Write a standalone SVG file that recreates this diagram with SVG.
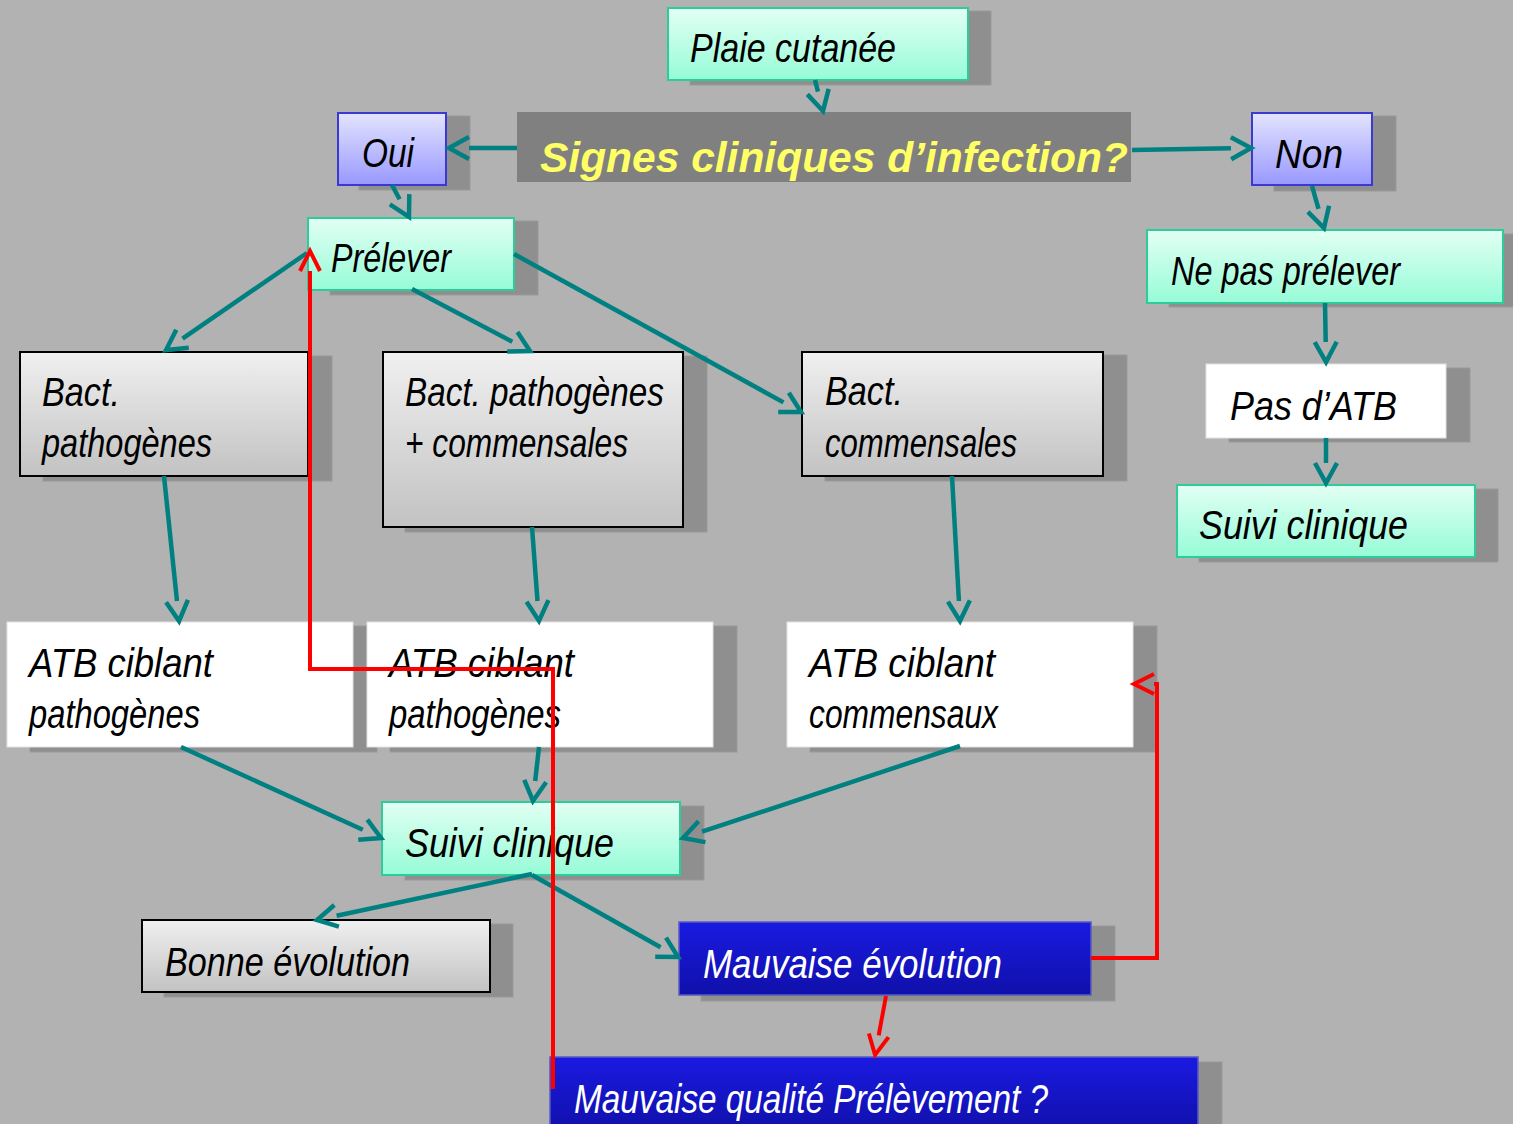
<svg xmlns="http://www.w3.org/2000/svg" width="1513" height="1124" viewBox="0 0 1513 1124">
<style>
.t{font-family:"Liberation Sans",Arial,sans-serif;font-style:italic;font-size:41px;fill:#000}
.w{fill:#fff}
.sh{fill:#8f8f8f;stroke:#999;stroke-width:1}
.green{fill:url(#gGreen);stroke:#2ecc9a;stroke-width:2}
.purple{fill:url(#gPurple);stroke:#3a3ad0;stroke-width:2}
.gray{fill:url(#gGray);stroke:#000;stroke-width:2}
.white{fill:#fff;stroke:#e2e2e2;stroke-width:1}
.blue{fill:url(#gBlue);stroke:#5a5ac8;stroke-width:1.5}
.c{fill:none;stroke:#008080;stroke-width:4.5;marker-end:url(#mT)}
.r{fill:none;stroke:#ff0000;stroke-width:4;marker-end:url(#mR)}
</style>
<defs>
<linearGradient id="gGreen" x1="0" y1="0" x2="0" y2="1"><stop offset="0" stop-color="#e2fff4"/><stop offset="1" stop-color="#96fcd8"/></linearGradient>
<linearGradient id="gPurple" x1="0" y1="0" x2="0" y2="1"><stop offset="0" stop-color="#e4e4ff"/><stop offset="1" stop-color="#9898ff"/></linearGradient>
<linearGradient id="gGray" x1="0" y1="0" x2="0" y2="1"><stop offset="0" stop-color="#f0f0f0"/><stop offset="1" stop-color="#c2c2c2"/></linearGradient>
<linearGradient id="gBlue" x1="0" y1="0" x2="0" y2="1"><stop offset="0" stop-color="#1a1ae2"/><stop offset="1" stop-color="#1010aa"/></linearGradient>
<marker id="mT" markerUnits="userSpaceOnUse" viewBox="-4 -14 28 28" markerWidth="28" markerHeight="28" refX="0" refY="0" orient="auto" overflow="visible"><path d="M0,-11 L20,0 L0,11" fill="none" stroke="#008080" stroke-width="4.5"/></marker>
<marker id="mR" markerUnits="userSpaceOnUse" viewBox="-4 -14 28 28" markerWidth="28" markerHeight="28" refX="0" refY="0" orient="auto" overflow="visible"><path d="M0,-10 L20,0 L0,10" fill="none" stroke="#ff0000" stroke-width="4"/></marker>
</defs>
<rect x="0" y="0" width="1513" height="1124" fill="#b2b2b2"/>

<g id="plaie"><rect class="sh" x="690" y="11" width="301" height="74"/><rect class="green" x="668" y="8" width="300" height="72"/><text class="t" x="690" y="62" textLength="206" lengthAdjust="spacingAndGlyphs">Plaie cutanée</text></g>
<g id="signes"><rect x="517" y="112" width="614" height="70" fill="#808080"/><text x="540" y="172" textLength="588" lengthAdjust="spacingAndGlyphs" style="font-family:'Liberation Sans',Arial,sans-serif;font-style:italic;font-weight:bold;font-size:42px;fill:#ffff66">Signes cliniques d’infection?</text></g>
<g id="oui"><rect class="sh" x="359" y="116" width="111" height="74"/><rect class="purple" x="338" y="113" width="108" height="72"/><text class="t" x="362" y="167" textLength="52" lengthAdjust="spacingAndGlyphs">Oui</text></g>
<g id="non"><rect class="sh" x="1274" y="116" width="122" height="75"/><rect class="purple" x="1252" y="113" width="120" height="72"/><text class="t" x="1275" y="168" textLength="68" lengthAdjust="spacingAndGlyphs">Non</text></g>
<g id="prelever"><rect class="sh" x="330" y="221" width="208" height="74"/><rect class="green" x="308" y="218" width="206" height="72"/><text class="t" x="331" y="272" textLength="120" lengthAdjust="spacingAndGlyphs">Prélever</text></g>
<g id="nepas"><rect class="sh" x="1169" y="234" width="360" height="73"/><rect class="green" x="1147" y="230" width="356" height="73"/><text class="t" x="1171" y="285" textLength="229" lengthAdjust="spacingAndGlyphs">Ne pas prélever</text></g>
<g id="pasatb"><rect class="sh" x="1229" y="368" width="241" height="74"/><rect class="white" x="1206" y="364" width="240" height="74"/><text class="t" x="1230" y="420" textLength="167" lengthAdjust="spacingAndGlyphs">Pas d’ATB</text></g>
<g id="suivi-r"><rect class="sh" x="1199" y="489" width="299" height="73"/><rect class="green" x="1177" y="485" width="298" height="72"/><text class="t" x="1199" y="539" textLength="209" lengthAdjust="spacingAndGlyphs">Suivi clinique</text></g>
<g id="bact-l"><rect class="sh" x="43" y="356" width="289" height="125"/><rect class="gray" x="20" y="352" width="288" height="124"/><text class="t" x="42" y="406" textLength="78" lengthAdjust="spacingAndGlyphs">Bact.</text><text class="t" x="42" y="457" textLength="170" lengthAdjust="spacingAndGlyphs">pathogènes</text></g>
<g id="bact-pc"><rect class="sh" x="405" y="356" width="302" height="176"/><rect class="gray" x="383" y="352" width="300" height="175"/><text class="t" x="405" y="406" textLength="259" lengthAdjust="spacingAndGlyphs">Bact. pathogènes</text><text class="t" x="405" y="457" textLength="223" lengthAdjust="spacingAndGlyphs">+ commensales</text></g>
<g id="bact-c"><rect class="sh" x="825" y="355" width="302" height="126"/><rect class="gray" x="802" y="352" width="301" height="124"/><text class="t" x="825" y="405" textLength="78" lengthAdjust="spacingAndGlyphs">Bact.</text><text class="t" x="825" y="457" textLength="192" lengthAdjust="spacingAndGlyphs">commensales</text></g>
<g id="atb-l"><rect class="sh" x="30" y="626" width="347" height="126"/><rect class="white" x="7" y="622" width="346" height="125"/><text class="t" x="29" y="677" textLength="184" lengthAdjust="spacingAndGlyphs">ATB ciblant</text><text class="t" x="29" y="728" textLength="171" lengthAdjust="spacingAndGlyphs">pathogènes</text></g>
<g id="atb-m"><rect class="sh" x="390" y="626" width="347" height="126"/><rect class="white" x="367" y="622" width="346" height="125"/><text class="t" x="389" y="677" textLength="185" lengthAdjust="spacingAndGlyphs">ATB ciblant</text><text class="t" x="389" y="728" textLength="172" lengthAdjust="spacingAndGlyphs">pathogènes</text></g>
<g id="atb-c"><rect class="sh" x="810" y="626" width="347" height="126"/><rect class="white" x="787" y="622" width="346" height="125"/><text class="t" x="809" y="677" textLength="186" lengthAdjust="spacingAndGlyphs">ATB ciblant</text><text class="t" x="809" y="728" textLength="189" lengthAdjust="spacingAndGlyphs">commensaux</text></g>
<g id="suivi-m"><rect class="sh" x="405" y="806" width="299" height="74"/><rect class="green" x="382" y="802" width="298" height="73"/><text class="t" x="405" y="857" textLength="209" lengthAdjust="spacingAndGlyphs">Suivi clinique</text></g>
<g id="bonne"><rect class="sh" x="164" y="924" width="349" height="73"/><rect class="gray" x="142" y="920" width="348" height="72"/><text class="t" x="165" y="976" textLength="245" lengthAdjust="spacingAndGlyphs">Bonne évolution</text></g>
<g id="mauvaise"><rect class="sh" x="701" y="926" width="414" height="75"/><rect class="blue" x="679" y="922" width="412" height="73"/><text class="t w" x="703" y="978" textLength="299" lengthAdjust="spacingAndGlyphs">Mauvaise évolution</text></g>
<g id="qualite"><rect class="sh" x="572" y="1062" width="650" height="70"/><rect class="blue" x="550" y="1057" width="648" height="75"/><text class="t w" x="574" y="1113" textLength="474" lengthAdjust="spacingAndGlyphs">Mauvaise qualité Prélèvement ?</text></g>

<g id="connectors">
<line class="c" x1="815" y1="80" x2="818" y2="91.6"/>
<line class="c" x1="517" y1="148" x2="469" y2="148"/>
<line class="c" x1="1132" y1="150" x2="1231" y2="148.3"/>
<line class="c" x1="392" y1="185" x2="399.6" y2="199.3"/>
<line class="c" x1="1312" y1="186" x2="1318.5" y2="208.8"/>
<line class="c" x1="1325" y1="303" x2="1325.7" y2="342"/>
<line class="c" x1="1326" y1="438" x2="1326" y2="463"/>
<line class="c" x1="307" y1="253" x2="182.5" y2="338.7"/>
<line class="c" x1="412" y1="289" x2="512.3" y2="341.7"/>
<line class="c" x1="514" y1="254" x2="783.5" y2="402.4"/>
<line class="c" x1="164" y1="476" x2="177" y2="601.1"/>
<line class="c" x1="532" y1="527" x2="537.5" y2="601"/>
<line class="c" x1="952" y1="476" x2="958.9" y2="601"/>
<line class="c" x1="181" y1="747" x2="362.8" y2="829.7"/>
<line class="c" x1="539" y1="747" x2="535.2" y2="781.1"/>
<line class="c" x1="960" y1="746" x2="702" y2="831.7"/>
<line class="c" x1="532" y1="874" x2="336.6" y2="915.8"/>
<line class="c" x1="532" y1="875" x2="660.6" y2="947.2"/>
<line class="r" x1="886" y1="996" x2="878.7" y2="1035.3"/>
<polyline class="r" points="1091,958 1157,958 1157,684 1154,684"/>
<polyline class="r" points="553,1089 553,669 310,669 310,271"/>
</g>
</svg>
